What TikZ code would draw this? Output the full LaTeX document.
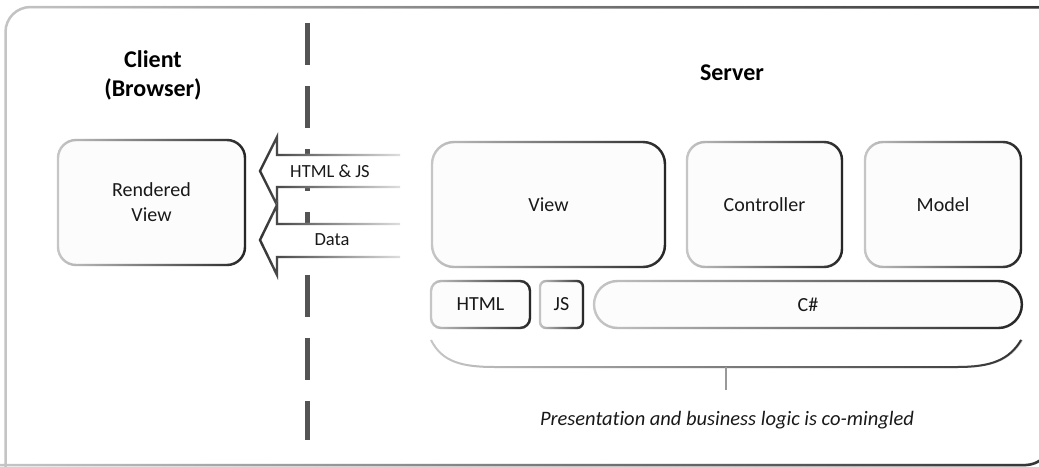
\documentclass[tikz,border=0pt]{standalone}
\usepackage{fontspec}
\setmainfont{Carlito}[Ligatures=NoCommon]
\usetikzlibrary{fadings}
\tikzfading[name=toright, left color=transparent!100, right color=transparent!0]
\tikzfading[name=toleft, left color=transparent!0, right color=transparent!100]
\begin{document}
\begin{tikzpicture}[x=1pt,y=-1pt,
  box/.style={rectangle, rounded corners=#1, fill=white!99!black, draw=black!22,
    line width=2.4pt, postaction={draw=black!85, path fading=toright},
    font=\fontsize{20}{25}\selectfont, text=black!90, inner sep=0pt, align=center},
  arrowshape/.style={draw=black!12, fill=white, line width=2.4pt, line join=miter,
    postaction={draw=black!80, path fading=toleft}},
  gradline/.style={draw=black!22, line width=#1, postaction={draw=black!80, path fading=toright}},
  lbl/.style={font=\fontsize{18.5}{22}\selectfont, text=black!90, inner sep=0pt},
  head/.style={font=\bfseries\fontsize{24}{29}\selectfont, align=center, text=black, inner sep=0pt},
  captext/.style={font=\itshape\fontsize{20.5}{24}\selectfont, text=black!90, inner sep=0pt},
  divider/.style={line width=5pt, draw=black!67, dash pattern=on 42pt off 21pt}
]
\useasboundingbox (0,0) rectangle (1039,466);
% outer frame (top-left and bottom-right corners rounded)
\draw[gradline=2.5pt] (5.5,490) -- (5.5,32) .. controls (5.5,18.2) and (16.7,7) .. (30.5,7)
  -- (1055,7) -- (1055,435) .. controls (1055,451.6) and (1041.6,465) .. (1025,465) -- (-10,465);
% client/server divider
\coordinate (dtop) at (307,23);
\coordinate (dbot) at (307,440);
\draw[divider] (dtop) -- (dbot);
% headings
\node[head] (client) at (153,75) {Client\\(Browser)};
\node[head] (server) at (732,73) {Server};
% boxes
\node[box=18pt, minimum width=187pt, minimum height=125pt] (rv) at (151.5,202.5) {Rendered\\View};
\node[box=22pt, minimum width=233pt, minimum height=125pt] (view) at (548.5,204.5) {View};
\node[box=18pt, minimum width=155pt, minimum height=125pt] (ctrl) at (764.5,204.5) {Controller};
\node[box=18pt, minimum width=156pt, minimum height=125pt] (model) at (943,204.5) {Model};
\node[box=10pt, minimum width=99pt, minimum height=47pt] (html) at (480.5,304.5) {HTML};
\node[box=6pt, minimum width=43pt, minimum height=47pt] (js) at (561.5,304.5) {JS};
\node[box=23.5pt, minimum width=428pt, minimum height=47pt] (cs) at (808,304.5) {C\#};
% block arrows
\path[arrowshape] (400,155) -- (277,155) -- (277,137) -- (260,171) -- (277,205) -- (277,187) -- (400,187);
\path[arrowshape] (400,224) -- (277,224) -- (277,205) -- (260,240) -- (277,275) -- (277,257) -- (400,257);
\node[lbl] (a1) at (330,171) {HTML \& JS};
\node[lbl] (a2) at (332,240) {Data};
% brace
\coordinate (bl) at (431,340);
\coordinate (br) at (1022,340);
\coordinate (bs) at (726,367);
\coordinate (be) at (726,390);
\draw[gradline=2pt] (bl) .. controls (442,362) and (462,367) .. (495,367) -- (958,367) .. controls (992,367) and (1010,360) .. (br);
\draw[line width=2pt, draw=black!40] (bs) -- (be);
\node[captext] (caption) at (727,420) {Presentation and business logic is co-mingled};
\end{tikzpicture}
\end{document}
